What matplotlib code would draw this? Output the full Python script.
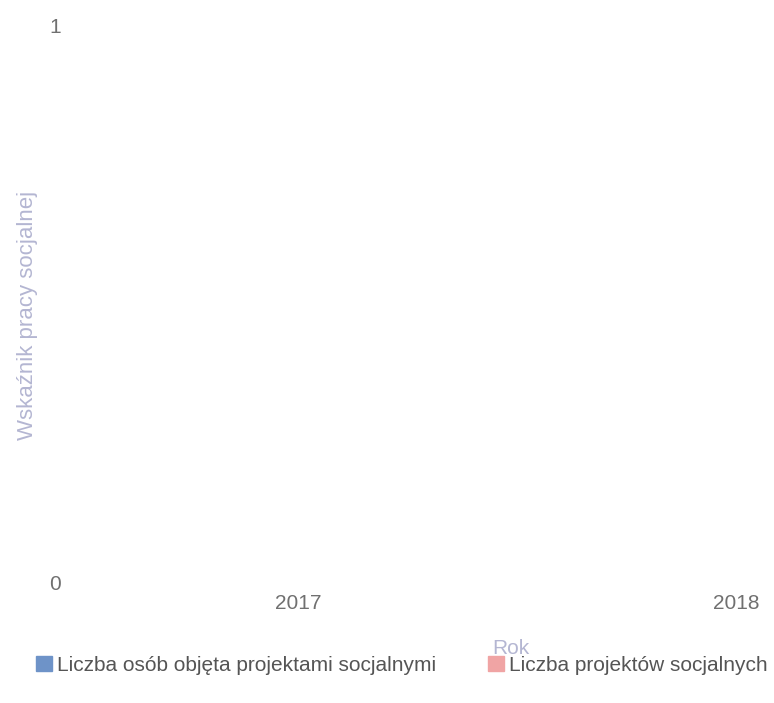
import matplotlib.pyplot as plt
from matplotlib.patches import Patch

# Data (both series are empty / zero in the reference)
years = ["2017", "2018"]
osoby = [0, 0]
projekty = [0, 0]

plt.rcParams["font.family"] = ["Liberation Sans", "DejaVu Sans"]

fig = plt.figure(figsize=(7.74, 7.03), dpi=100)
ax = fig.add_axes([0.1, 0.171, 0.885, 0.793])

pos = list(range(len(years)))
w = 0.2
ax.bar([p - w / 2 for p in pos], osoby, width=w, color="#6e93c8")
ax.bar([p + w / 2 for p in pos], projekty, width=w, color="#f0a4a4")

ax.set_xlim(-0.505, 1.06)
ax.set_ylim(0, 1)
ax.set_xticks(pos)
ax.set_xticklabels(years)
ax.set_yticks([0, 1])
ax.tick_params(length=0, labelsize=15, labelcolor="#707070")
ax.tick_params(axis="x", pad=8)
ax.tick_params(axis="y", pad=12)
for s in ax.spines.values():
    s.set_visible(False)

fig.text(0.66, 0.078, "Rok", ha="center", va="center", fontsize=15, color="#b4b6d2")
fig.text(0.036, 0.552, "Wskaźnik pracy socjalnej", rotation=90, ha="center",
         va="center", fontsize=16, color="#b4b6d2")

handles = [Patch(color="#6e93c8"), Patch(color="#f0a4a4")]
labels = ["Liczba osób objęta projektami socjalnymi", "Liczba projektów socjalnych"]
fig.legend(handles, labels, loc="center left", bbox_to_anchor=(0.047, 0.054), ncol=2,
           frameon=False, fontsize=15, handlelength=0.75, handleheight=0.75,
           handletextpad=0.25, columnspacing=2.5, labelcolor="#555555",
           borderaxespad=0, borderpad=0)

fig.savefig("out.png", dpi=100)
